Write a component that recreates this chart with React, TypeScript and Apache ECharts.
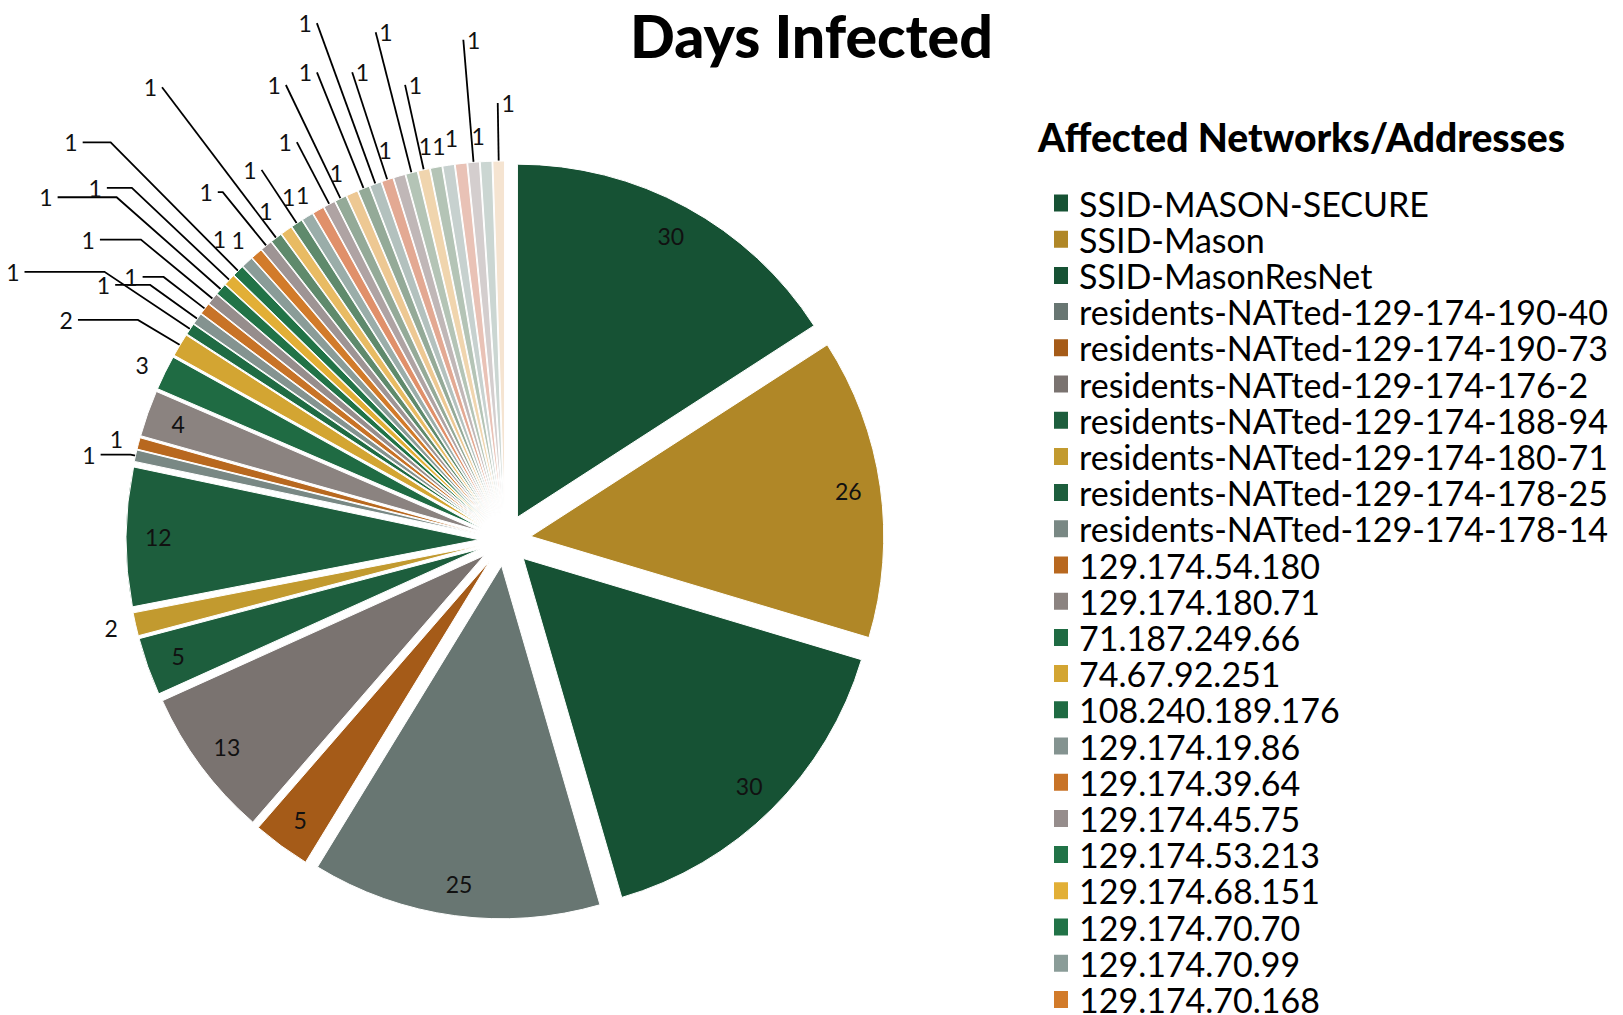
import React, { useEffect, useRef } from 'react';
import * as echarts from 'echarts';

// ---- data ----
const networks = [
  'SSID-MASON-SECURE', 'SSID-Mason', 'SSID-MasonResNet',
  'residents-NATted-129-174-190-40', 'residents-NATted-129-174-190-73',
  'residents-NATted-129-174-176-2', 'residents-NATted-129-174-188-94',
  'residents-NATted-129-174-180-71', 'residents-NATted-129-174-178-25',
  'residents-NATted-129-174-178-14', '129.174.54.180', '129.174.180.71',
  '71.187.249.66', '74.67.92.251', '108.240.189.176', '129.174.19.86',
  '129.174.39.64', '129.174.45.75', '129.174.53.213', '129.174.68.151',
  '129.174.70.70', '129.174.70.99', '129.174.70.168',
  // entries below are cut off from the visible legend
  'Unlisted address 1', 'Unlisted address 2', 'Unlisted address 3', 'Unlisted address 4',
  'Unlisted address 5', 'Unlisted address 6', 'Unlisted address 7', 'Unlisted address 8',
  'Unlisted address 9', 'Unlisted address 10', 'Unlisted address 11', 'Unlisted address 12',
  'Unlisted address 13', 'Unlisted address 14', 'Unlisted address 15', 'Unlisted address 16',
  'Unlisted address 17', 'Unlisted address 18', 'Unlisted address 19', 'Unlisted address 20',
  'Unlisted address 21',
];

const daysInfected = [
  30, 26, 30, 25, 5, 13, 5, 2, 12, 1, 1, 4, 3, 2,
  1, 1, 1, 1, 1, 1, 1, 1, 1, 1,
  1, 1, 1, 1, 1, 1, 1, 1, 1, 1,
  1, 1, 1, 1, 1, 1, 1, 1, 1, 1,
];

const legendShown = networks.slice(0, 23);

// ---- styles ----
const sliceColors = [
  '#165234', '#B08727', '#165234', '#687672', '#A55B18', '#7A7370',
  '#1D5E3D', '#C29A2F', '#1D5E3D', '#798884', '#B8681F', '#8B8380',
  '#1F6B43', '#D3A532', '#1F6B43', '#849390', '#C87327', '#968D8C',
  '#217347', '#E2AF36', '#217347', '#8A9C98', '#D27B2A', '#9E9494',
  '#5F8A6C', '#E8BB63', '#5F8A6C', '#9AADA9', '#E0906A', '#AFA3A3',
  '#94AA98', '#EDC893', '#94AA98', '#B3C1BE', '#E3A993', '#C0B7B7',
  '#B4C4B6', '#F0D5AE', '#B4C4B6', '#C7D1CF', '#E9C2B6', '#D4CECE',
  '#CBD6D2', '#F5E4D1',
];

// label placement per slice: 'in' = inside label, otherwise [leader length, length2, show leader line, shift right]
type Plan = 'in' | [number, number, boolean, number];
const labelPlan: Plan[] = [
  'in', 'in', 'in', 'in', 'in', 'in', 'in',
  [18, 0, false, 0],
  'in',
  [5, 30, true, 0],
  [16, 0, false, 0],
  'in',
  [18, 0, false, 0],
  [49, 60, true, 0],
  [103, 80, true, 0],
  [58, 35, true, 0],
  [52, 21, true, 0],
  [93, 41, true, 0],
  [139, 59, true, 0],
  [134, 25, true, 0],
  [181, 28, true, 0],
  [31, 0, false, 0],
  [18, 0, false, 0],
  [69, 5, true, 0],
  [189, 0, true, 0],
  [24, 0, false, 0],
  [64, 0, true, 0],
  [23, 0, false, 0],
  [18, 0, false, 0],
  [70, 0, true, 0],
  [126, 0, true, 0],
  [22, 0, false, 0],
  [125, 0, true, 0],
  [171, 0, true, 0],
  [113, 0, true, 22],
  [27, 0, false, 0],
  [145, 0, true, 22],
  [87, 0, true, 22],
  [22, 0, false, 0],
  [19, 0, false, 0],
  [26, 0, false, 0],
  [123, 0, true, 22],
  [26, 0, false, 0],
  [58, 0, true, 22],
];

const FONT = 'Lato';
const CENTER = [505, 540];
const R = 353;
const OFFSET = 26;
const labelFont = { fontFamily: FONT, fontSize: 23, color: '#111' };

export default function App() {
  const ref = useRef<HTMLDivElement>(null);

  useEffect(() => {
    if (!ref.current) return;
    const chart = echarts.init(ref.current, undefined, { renderer: 'svg' });

    const mainData = daysInfected.map((v, i) => {
      const plan = labelPlan[i];
      const item: any = {
        name: networks[i],
        value: v,
        selected: true,
        itemStyle: { color: sliceColors[i] },
      };
      if (plan === 'in') {
        item.label = { show: false };
        item.labelLine = { show: false };
      } else {
        item.label = {
          show: true,
          position: 'outside',
          distanceToLabelLine: plan[2] ? 5 : 0,
        };
        item.labelLine = { show: plan[2], length: plan[0], length2: plan[1] };
      }
      return item;
    });

    const innerLabelData = daysInfected.map((v, i) => ({
      name: networks[i],
      value: v,
      selected: true,
      label: { show: labelPlan[i] === 'in' },
    }));

    chart.setOption({
      animation: false,
      backgroundColor: '#ffffff',
      title: [
        {
          text: 'Days Infected',
          left: 'center',
          top: 5,
          padding: 0,
          textStyle: { fontFamily: FONT, fontWeight: 900, fontSize: 59, lineHeight: 60, color: '#000' },
        },
        {
          text: 'Affected Networks/Addresses',
          left: 1038,
          top: 117,
          padding: 0,
          textStyle: { fontFamily: FONT, fontWeight: 900, fontSize: 39, color: '#000' },
        },
      ],
      legend: {
        orient: 'vertical',
        left: 1052,
        top: 186,
        height: 860,
        padding: 0,
        itemWidth: 16,
        itemHeight: 19,
        itemGap: 2.2,
        icon: 'rect',
        selectedMode: false,
        data: legendShown,
        textStyle: {
          fontFamily: FONT,
          fontSize: 34,
          lineHeight: 34,
          color: '#000',
          padding: [0, 0, 0, 5],
        },
      },
      series: [
        {
          type: 'pie',
          center: CENTER,
          radius: R,
          startAngle: 90,
          clockwise: true,
          selectedMode: 'multiple',
          selectedOffset: OFFSET,
          avoidLabelOverlap: false,
          emphasis: { disabled: true },
          itemStyle: { borderColor: '#ffffff', borderWidth: 1 },
          label: { ...labelFont, formatter: '{c}', bleedMargin: 0 },
          labelLine: { lineStyle: { color: '#000', width: 1.8 }, smooth: false },
          labelLayout: (p: any) => {
            const plan = labelPlan[p.dataIndex];
            if (plan !== 'in' && plan[3]) return { dx: plan[3] };
            return {};
          },
          data: mainData,
        },
        {
          type: 'pie',
          center: CENTER,
          radius: [R * 0.8, R],
          startAngle: 90,
          clockwise: true,
          selectedMode: 'multiple',
          selectedOffset: OFFSET,
          avoidLabelOverlap: false,
          silent: true,
          emphasis: { disabled: true },
          itemStyle: { color: 'rgba(0,0,0,0)', borderWidth: 0 },
          label: { ...labelFont, position: 'inside', formatter: '{c}' },
          labelLine: { show: false },
          data: innerLabelData,
        },
      ],
    });

    return () => chart.dispose();
  }, []);

  return (
    <div
      ref={ref}
      style={{ position: 'absolute', left: 0, top: 0, width: 1623, height: 1015, background: '#fff' }}
    />
  );
}
